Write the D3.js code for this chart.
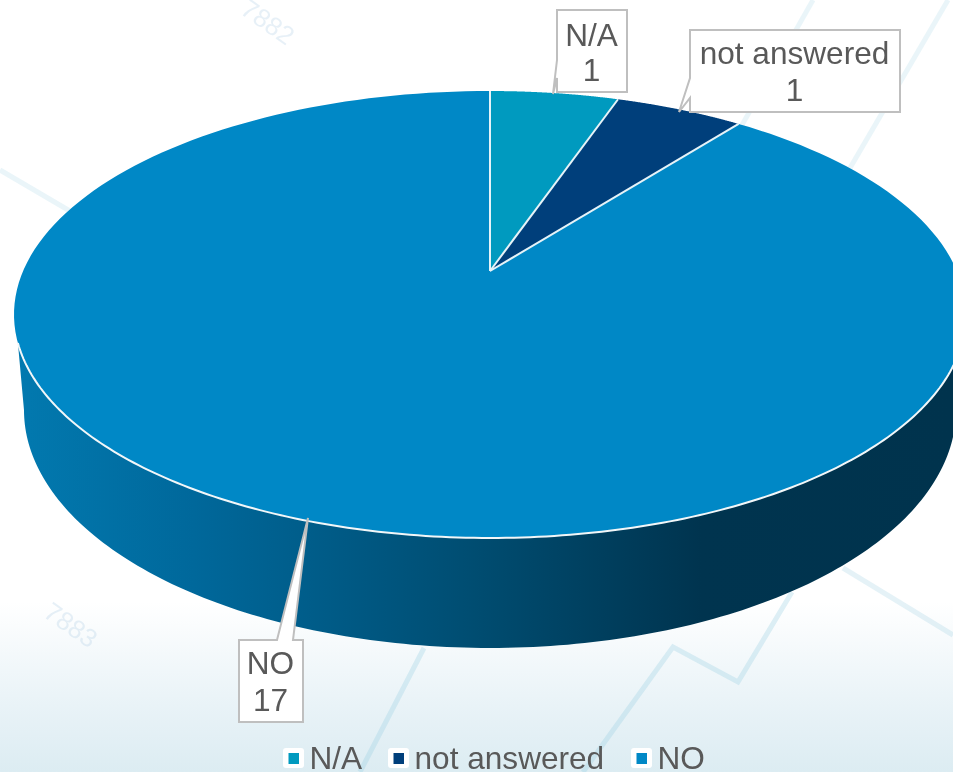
<!DOCTYPE html>
<html><head><meta charset="utf-8">
<script src="https://cdn.jsdelivr.net/npm/d3@7"></script>
<style>html,body{margin:0;padding:0;background:#fff;overflow:hidden}svg{display:block;filter:blur(0.4px)}text{font-family:"Liberation Sans",Arial,sans-serif}</style>
</head><body><svg id="c" width="953" height="772"></svg>
<script>
const categories = ["N/A", "not answered", "NO"];
const values = [1, 1, 17];
const colors = ["#009abf", "#003f7b", "#0088c6"];
const watermarkLabels = ["7882", "7883"];

const W = 953, H = 772, TEXT = "#595959", BORDER = "#bfbfbf";
const svg = d3.select("#c");
const defs = svg.append("defs");

const bg = defs.append("linearGradient").attr("id","bg").attr("x1",0).attr("y1",0).attr("x2",0).attr("y2",1);
[[0,"#ffffff"],[.78,"#ffffff"],[.90,"#ebf4f8"],[1,"#dcecf2"]].forEach(s=>bg.append("stop").attr("offset",s[0]).attr("stop-color",s[1]));
const wall = defs.append("linearGradient").attr("id","wall").attr("gradientUnits","userSpaceOnUse").attr("x1",20).attr("y1",0).attr("x2",953).attr("y2",0);
[[0,"#0279af"],[.186,"#00689b"],[.495,"#004c70"],[.73,"#00344f"],[1,"#00334d"]].forEach(s=>wall.append("stop").attr("offset",s[0]).attr("stop-color",s[1]));

svg.append("rect").attr("width",W).attr("height",H).attr("fill","url(#bg)");

// faint backdrop artwork
const wm = svg.append("g").attr("fill","none").attr("stroke","rgb(150,205,225)").attr("stroke-width",5);
[
 [[[0,170],[75,214]],.2],
 [[[813,0],[742,125]],.2],
 [[[948,0],[850,168]],.2],
 [[[424,648],[360,772]],.3],
 [[[583,772],[673,647],[738,682],[792,592]],.3],
 [[[843,568],[953,635]],.25]
].forEach(p=>wm.append("path").attr("d",d3.line()(p[0])).attr("stroke-opacity",p[1]));
[[268,22],[71,625]].forEach((p,i)=>svg.append("text").text(watermarkLabels[i])
  .attr("transform",`translate(${p[0]},${p[1]}) rotate(35)`).attr("text-anchor","middle").attr("dy",".35em")
  .attr("font-size",26).attr("fill","rgb(170,200,225)").attr("fill-opacity",.28));

// perspective disc: pie centre at (cx, apexY), near rim below, far rim above
const cx = 490, apexY = 271, midY = 314.5, R = 466.9, S = 215, K = 0.1946;
const project = (a, sx=1, sy=1, dy=0) => {
  const u = Math.sin(a), v = -Math.cos(a), w = 1 - K*v;
  return [cx + sx*R*u/w, midY + dy + sy*(apexY - midY + S*v/w)];
};
const line = d3.line();
const arcPts = (a0,a1,sx,sy,dy) => d3.range(0,181).map(i=>project(a0+(a1-a0)*i/180,sx,sy,dy));

// wall between the two sides of the rim
const tan = Math.acos(-K);               // angle where the rim is widest
const aR = tan+0.124, aL = 2*Math.PI-aR;
const rimTop = arcPts(aR,aL,1,1,0);
const rimBottom = arcPts(tan,2*Math.PI-tan,0.979,1.065,95.5).reverse();
svg.append("path").attr("d",line(rimTop.concat(rimBottom))+"Z").attr("fill","url(#wall)");

// top face, built from d3.pie angles
const pie = d3.pie().sort(null)(values);
const center = [cx, apexY];
svg.append("g").selectAll("path").data(pie).join("path")
  .attr("d",d=>line([center].concat(arcPts(d.startAngle,d.endAngle)))+"Z")
  .attr("fill",(d,i)=>colors[i]);
// white separators and front rim highlight
const sep = svg.append("g").attr("fill","none").attr("stroke","#e6f3f8").attr("stroke-width",2);
pie.forEach(d=>sep.append("path").attr("d",line([center,project(d.startAngle)])));
sep.append("path").attr("stroke","#f2f7f9").attr("d",line(arcPts(aR,aL)));

// callout labels
const callouts = [
 {second:81,box:[557,10,627,92],base:46,ptr:[[557,60],[553,94],[557,78]],side:"left"},
 {second:101,box:[690,30,900,112],base:64,ptr:[[690,78],[679,112],[690,98]],side:"left"},
 {second:711,box:[239,640,303,722],base:674,ptr:[[277,640],[308,518],[293,640]],side:"top"}
];
callouts.forEach((c,i)=>{
  const [x0,y0,x1,y1]=c.box, P=c.ptr;
  const pts = c.side==="left"
    ? [[x0,y0],[x1,y0],[x1,y1],[x0,y1],P[2],P[1],P[0]]
    : [[x0,y0],P[0],P[1],P[2],[x1,y0],[x1,y1],[x0,y1]];
  svg.append("path").attr("d",line(pts)+"Z").attr("fill","#fff").attr("stroke",BORDER).attr("stroke-width",2);
  const mx=(x0+x1)/2-0.5;
  svg.append("text").attr("x",mx).attr("y",c.base).attr("text-anchor","middle").attr("font-size",31.6).attr("fill",TEXT).text(categories[i]);
  svg.append("text").attr("x",mx).attr("y",c.second).attr("text-anchor","middle").attr("font-size",31.6).attr("fill",TEXT).text(values[i]);
});

// legend
const legendX = [283, 388, 631];
categories.forEach((c,i)=>{
  const x=legendX[i];
  svg.append("rect").attr("x",x).attr("y",748).attr("width",21).attr("height",20).attr("rx",3).attr("fill","#fff");
  svg.append("rect").attr("x",x+5.5).attr("y",753).attr("width",10.5).attr("height",11).attr("fill",colors[i]);
  svg.append("text").attr("x",x+26.5).attr("y",769).attr("font-size",31.6).attr("fill",TEXT).text(c);
});
</script></body></html>
